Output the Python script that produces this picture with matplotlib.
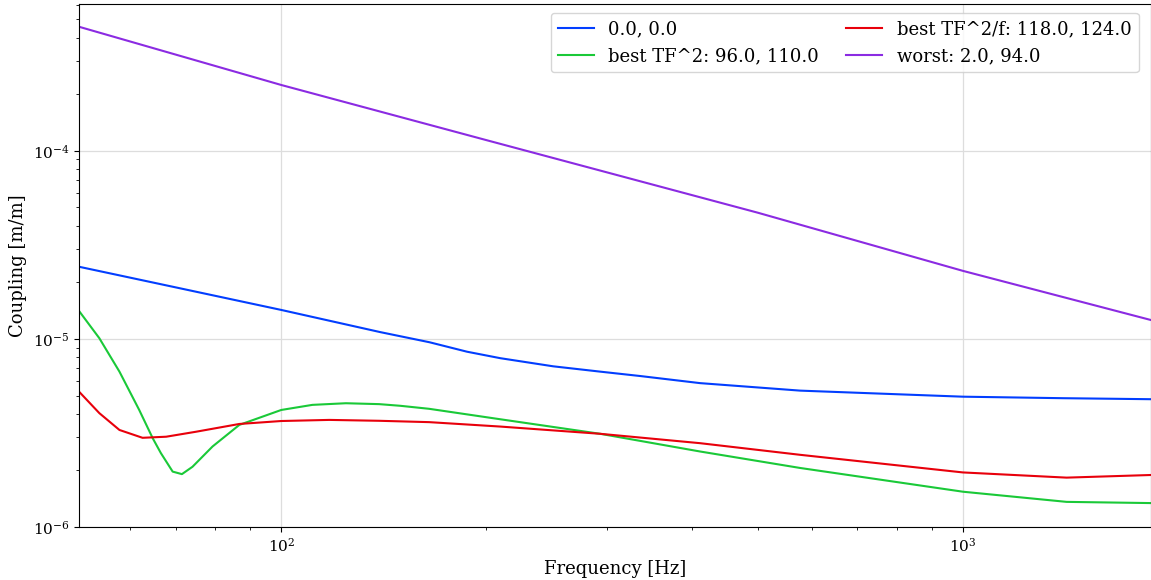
import numpy as np
import matplotlib
matplotlib.use("Agg")
import matplotlib.pyplot as plt

# values (Hz, m/m)
f_blue = [50.5, 70, 100, 139.7, 165, 187.3, 209.5, 250.6, 293.6, 336, 411.5, 576.8, 800,
          1000, 1400, 1887]
c_blue = [2.42e-5, 1.88e-5, 1.426e-5, 1.087e-5, 9.6e-6, 8.55e-6, 7.9e-6, 7.15e-6, 6.7e-6,
          6.35e-6, 5.82e-6, 5.31e-6, 5.08e-6, 4.93e-6, 4.84e-6, 4.78e-6]

f_green = [50.5, 54.1, 57.9, 61.9, 64.8, 66.6, 69.3, 71.5, 74.1, 79.3, 86.8, 100, 111.1,
           124.4, 139.2, 149.5, 164.8, 209.5, 293.6, 411.5, 576.8, 1000, 1419, 1887]
c_green = [1.41e-5, 1.0085e-5, 6.70e-6, 4.19e-6, 2.96e-6, 2.47e-6, 1.97e-6, 1.91e-6, 2.09e-6,
           2.68e-6, 3.49e-6, 4.19e-6, 4.46e-6, 4.55e-6, 4.50e-6, 4.41e-6, 4.25e-6, 3.74e-6,
           3.13e-6, 2.52e-6, 2.06e-6, 1.54e-6, 1.36e-6, 1.34e-6]

f_red = [50.5, 54.1, 57.9, 62.6, 67.8, 75.0, 86.8, 100, 117.6, 139.2, 164.8, 209.5,
         293.6, 411.5, 576.8, 1000, 1419, 1887]
c_red = [5.25e-6, 4.03e-6, 3.28e-6, 2.98e-6, 3.02e-6, 3.21e-6, 3.53e-6, 3.66e-6, 3.71e-6,
         3.67e-6, 3.61e-6, 3.42e-6, 3.13e-6, 2.79e-6, 2.42e-6, 1.95e-6, 1.83e-6, 1.89e-6]

f_purple = [50.5, 100, 200, 500, 1000, 1887]
c_purple = [4.57e-4, 2.24e-4, 1.14e-4, 4.69e-5, 2.30e-5, 1.26e-5]

labels = ["0.0, 0.0", "best TF^2: 96.0, 110.0", "best TF^2/f: 118.0, 124.0", "worst: 2.0, 94.0"]
colors = ["#023eff", "#1ac938", "#e8000b", "#8b2be2"]

plt.rcParams['font.family'] = ['DejaVu Serif']

fig = plt.figure(figsize=(11.51, 5.8), dpi=100)
ax = fig.add_axes([0.0686, 0.0914, 0.9314, 0.902])

ax.plot(f_blue, c_blue, color=colors[0], lw=1.5, label=labels[0])
ax.plot(f_green, c_green, color=colors[1], lw=1.5, label=labels[1])
ax.plot(f_red, c_red, color=colors[2], lw=1.5, label=labels[2])
ax.plot(f_purple, c_purple, color=colors[3], lw=1.5, label=labels[3])

ax.set_xscale('log')
ax.set_yscale('log')
ax.set_xlim(50.5, 1887)
ax.set_ylim(1e-6, 6.05e-4)
ax.grid(True, which='major', color='#dddddd', lw=0.9)
ax.set_xlabel('Frequency [Hz]', fontsize=13)
ax.set_ylabel('Coupling [m/m]', fontsize=13)
ax.tick_params(labelsize=11)
ax.legend(loc='upper right', ncol=2, fontsize=13, columnspacing=1.5,
          bbox_to_anchor=(0.997, 1.0))

fig.savefig('out.png', dpi=100)
